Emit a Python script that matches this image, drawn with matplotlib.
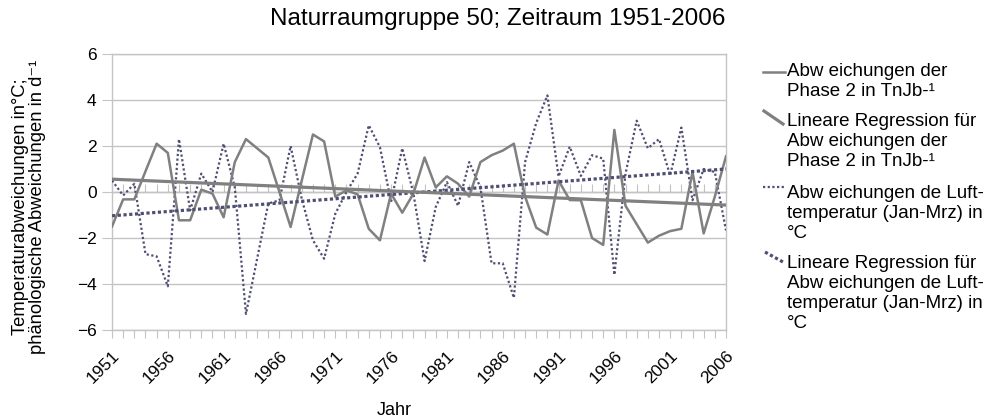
import numpy as np
import matplotlib
matplotlib.use("Agg")
import matplotlib.pyplot as plt
from matplotlib.lines import Line2D

plt.rcParams["font.family"] = ["Liberation Sans", "DejaVu Sans"]

# ------------------------------------------------------------
# DATA
# ------------------------------------------------------------
YEARS = list(range(1951, 2007))
LABEL_YEARS = [1951, 1956, 1961, 1966, 1971, 1976, 1981, 1986, 1991, 1996, 2001, 2006]

# Abweichungen der Phase 2 in TnJb-1
PHASE2 = [-1.50, -0.32, -0.32, 0.90, 2.10, 1.70, -1.23, -1.23, 0.10, -0.07,
          -1.10, 1.30, 2.30, 1.90, 1.50, 0.00, -1.52, 0.50, 2.50, 2.20,
          -0.20, 0.07, -0.10, -1.60, -2.10, -0.07, -0.90, -0.07, 1.50, 0.20,
          0.68, 0.36, -0.20, 1.30, 1.60, 1.80, 2.10, -0.20, -1.55, -1.85,
          0.50, -0.35, -0.36, -2.00, -2.30, 2.70, -0.60, -1.40, -2.20, -1.90,
          -1.70, -1.60, 0.87, -1.80, -0.20, 1.55]

# Abweichungen der Lufttemperatur (Jan-Mrz) in °C
TEMP = [0.50, -0.15, 0.36, -2.70, -2.80, -4.10, 2.30, -0.80, 0.80, 0.00,
        2.10, 0.20, -5.30, -2.90, -0.50, -0.36, 2.00, -0.30, -2.10, -2.90,
        -0.95, 0.00, 0.80, 2.90, 1.95, -0.43, 1.90, -0.07, -3.00, -0.65,
        0.43, -0.60, 1.30, 0.20, -3.10, -3.10, -4.60, 1.30, 3.00, 4.20,
        0.67, 1.97, 0.70, 1.60, 1.45, -3.60, 0.80, 3.10, 1.90, 2.30,
        0.72, 2.80, -0.36, 1.00, 0.87, -1.67]

LABELS = [
    "Abw eichungen der\nPhase 2 in TnJb-¹",
    "Lineare Regression für\nAbw eichungen der\nPhase 2 in TnJb-¹",
    "Abw eichungen de Luft-\ntemperatur (Jan-Mrz) in\n°C",
    "Lineare Regression für\nAbw eichungen de Luft-\ntemperatur (Jan-Mrz) in\n°C",
]

C_SOLID = "#808080"
C_DOT = "#4f4f74"
C_GRID = "#c4c4c4"

W, H = 993, 419


def px(x, y):
    return x / W, 1 - y / H


def main() -> None:
    fig = plt.figure(figsize=(W / 100, H / 100), dpi=100)
    l, r = 112 / W, 726 / W
    b, t = 1 - 330 / H, 1 - 54 / H
    ax = fig.add_axes([l, b, r - l, t - b])

    x = np.array(YEARS, dtype=float)
    p2 = np.array(PHASE2)
    tp = np.array(TEMP)

    fit_p2 = np.polyval(np.polyfit(x, p2, 1), x)
    fit_tp = np.polyval(np.polyfit(x, tp, 1), x)

    ax.plot(x, tp, color=C_DOT, lw=1.6, ls=(0, (1, 1.1)), zorder=3)
    ax.plot(x, p2, color=C_SOLID, lw=1.8, zorder=4)
    ax.plot(x, fit_tp, color=C_DOT, lw=2.3, ls=(0, (1, 0.8)), zorder=5)
    ax.plot(x, fit_p2, color=C_SOLID, lw=2.3, zorder=5)

    ax.set_xlim(1951, 2006)
    ax.set_ylim(-6, 6)
    ax.set_yticks(range(-6, 7, 2))
    ax.yaxis.grid(True, color=C_GRID, lw=1)
    ax.set_axisbelow(True)

    ax.set_xticks(YEARS)
    ax.set_xticklabels([str(y) if y in LABEL_YEARS else "" for y in YEARS],
                       rotation=45, ha="right", va="top", rotation_mode="anchor")
    ax.tick_params(axis="x", length=6, color=C_GRID, labelsize=12.5, pad=7)
    ax.tick_params(axis="y", length=7, color=C_GRID, labelsize=12.5, pad=4)
    for s in ax.spines.values():
        s.set_color(C_GRID)
        s.set_linewidth(1)

    # zero line ticks
    sec = ax.secondary_xaxis(0.5)
    sec.set_xticks(YEARS)
    sec.set_xticklabels([])
    sec.tick_params(axis="x", direction="out", length=6, color=C_GRID)
    sec.spines["bottom"].set_color(C_GRID)

    ax.set_xlabel("Jahr", fontsize=13)
    ax.xaxis.set_label_coords(0.46, -0.26)
    ax.set_ylabel("Temperaturabweichungen in°C;\nphänologische Abweichungen in d⁻¹",
                  fontsize=13.2, linespacing=0.95)
    ax.yaxis.set_label_coords(-0.108, 0.445)

    fig.text(0.501, 1 - 19 / H, "Naturraumgruppe 50; Zeitraum 1951-2006",
             ha="center", va="center", fontsize=17.5)

    # legend, drawn by hand so the markers sit on the first line
    handles = [
        dict(xs=(763, 785), ys=(72, 72), color=C_SOLID, lw=1.8, ls="-"),
        dict(xs=(764, 783), ys=(111, 124), color=C_SOLID, lw=2.3, ls="-"),
        dict(xs=(763, 785), ys=(187, 187), color=C_DOT, lw=1.6, ls=(0, (1, 1.1))),
        dict(xs=(765, 783), ys=(252, 262), color=C_DOT, lw=2.3, ls=(0, (1, 0.8))),
    ]
    tops = [63, 113, 185, 255]
    for h, top, lab in zip(handles, tops, LABELS):
        x0, y0 = px(h["xs"][0], h["ys"][0])
        x1, y1 = px(h["xs"][1], h["ys"][1])
        fig.add_artist(Line2D([x0, x1], [y0, y1], color=h["color"], lw=h["lw"],
                              ls=h["ls"], transform=fig.transFigure))
        tx, ty = px(787, top)
        fig.text(tx, ty, lab, ha="left", va="top", fontsize=13.5, linespacing=1.22)

    fig.savefig("out.png", dpi=100)
    plt.close(fig)


if __name__ == "__main__":
    main()
